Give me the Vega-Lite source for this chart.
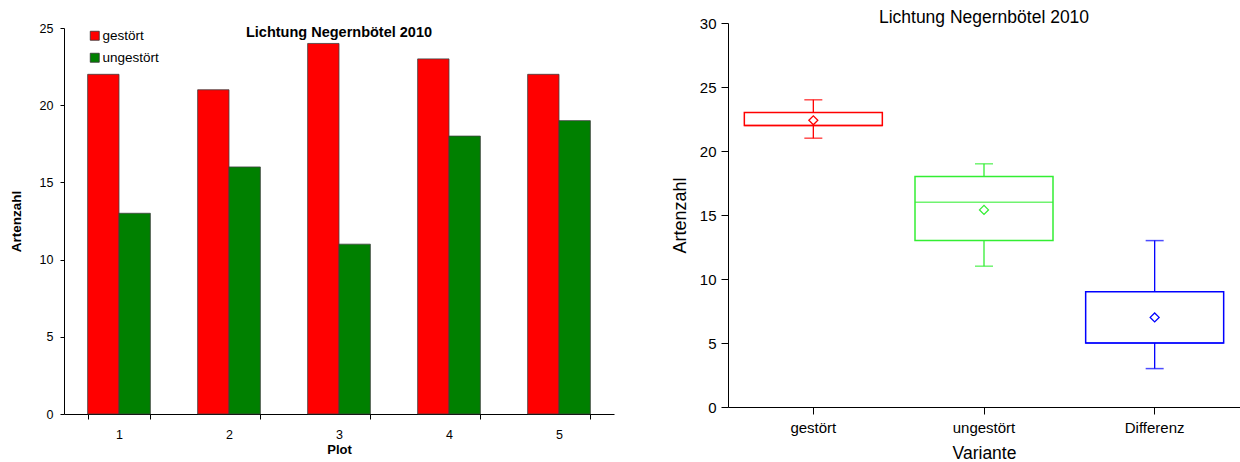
{
  "$schema": "https://vega.github.io/schema/vega-lite/v6.json",
  "padding": {"left": 9, "top": 8, "right": 0, "bottom": 0},
  "background": "white",
  "config": {
    "font": "Liberation Sans",
    "view": {"stroke": null},
    "axis": {"labelFont": "Liberation Sans", "titleFont": "Liberation Sans", "domainColor": "black", "tickColor": "black", "labelColor": "black", "titleColor": "black", "grid": false}
  },
  "datasets": {
    "species": [
      {"plot": "1", "variante": "gestört", "artenzahl": 22},
      {"plot": "2", "variante": "gestört", "artenzahl": 21},
      {"plot": "3", "variante": "gestört", "artenzahl": 24},
      {"plot": "4", "variante": "gestört", "artenzahl": 23},
      {"plot": "5", "variante": "gestört", "artenzahl": 22},
      {"plot": "1", "variante": "ungestört", "artenzahl": 13},
      {"plot": "2", "variante": "ungestört", "artenzahl": 16},
      {"plot": "3", "variante": "ungestört", "artenzahl": 11},
      {"plot": "4", "variante": "ungestört", "artenzahl": 18},
      {"plot": "5", "variante": "ungestört", "artenzahl": 19},
      {"plot": "1", "variante": "Differenz", "artenzahl": 9},
      {"plot": "2", "variante": "Differenz", "artenzahl": 5},
      {"plot": "3", "variante": "Differenz", "artenzahl": 13},
      {"plot": "4", "variante": "Differenz", "artenzahl": 5},
      {"plot": "5", "variante": "Differenz", "artenzahl": 3}
    ]
  },
  "resolve": {"scale": {"color": "independent", "stroke": "independent", "x": "independent", "y": "independent"}, "legend": {"color": "independent"}},
  "hconcat": [
    {
      "width": 550,
      "height": 391,
      "title": {"text": "Lichtung Negernbötel 2010", "fontSize": 14.5, "fontWeight": "bold", "font": "Liberation Sans", "anchor": "middle", "offset": -18, "color": "black"},
      "data": {"name": "species"},
      "transform": [{"filter": "datum.variante !== 'Differenz'"}],
      "mark": {"type": "bar", "stroke": "#404040", "strokeWidth": 0.8},
      "encoding": {
        "x": {"field": "plot", "type": "nominal", "title": "Plot",
              "scale": {"paddingInner": 0.43, "paddingOuter": 0.215},
              "axis": {"labelAngle": 0, "tickBand": "extent", "tickSize": 5, "labelFontSize": 12.5, "labelPadding": 9, "titleFontSize": 13, "titleFontWeight": "bold", "titlePadding": 3}},
        "xOffset": {"field": "variante", "type": "nominal", "sort": ["gestört", "ungestört"]},
        "y": {"field": "artenzahl", "type": "quantitative", "title": "Artenzahl",
              "scale": {"domain": [0, 25], "range": [391, 5]},
              "axis": {"values": [0, 5, 10, 15, 20, 25], "tickSize": 4, "labelFontSize": 12.5, "labelPadding": 7, "titleFontSize": 13.5, "titleFontWeight": "bold", "titlePadding": 16}},
        "color": {"field": "variante", "type": "nominal",
                  "scale": {"domain": ["gestört", "ungestört"], "range": ["#ff0000", "#008000"]},
                  "legend": {"title": null, "orient": "none", "legendX": 24, "legendY": 6, "symbolType": "square", "symbolSize": 81, "symbolStrokeColor": "#333", "symbolStrokeWidth": 0.8, "labelFontSize": 13.5, "labelFont": "Liberation Sans", "labelOffset": 1, "rowPadding": 7, "labelColor": "black"}}
      }
    },
    {
      "width": 512,
      "height": 384,
      "title": {"text": "Lichtung Negernbötel 2010", "fontSize": 17.5, "fontWeight": "normal", "font": "Liberation Sans", "anchor": "middle", "offset": -10, "color": "black"},
      "data": {"name": "species"},
      "transform": [
        {"aggregate": [
          {"op": "min", "field": "artenzahl", "as": "lo"},
          {"op": "q1", "field": "artenzahl", "as": "q1"},
          {"op": "median", "field": "artenzahl", "as": "med"},
          {"op": "q3", "field": "artenzahl", "as": "q3"},
          {"op": "max", "field": "artenzahl", "as": "hi"},
          {"op": "mean", "field": "artenzahl", "as": "avg"}
        ], "groupby": ["variante"]}
      ],
      "encoding": {
        "x": {"field": "variante", "type": "nominal", "title": "Variante", "sort": ["gestört", "ungestört", "Differenz"],
              "scale": {"paddingInner": 0, "paddingOuter": 0},
              "axis": {"labelAngle": 0, "tickSize": 7, "labelFontSize": 15, "labelPadding": 6, "titleFontSize": 17.5, "titleFontWeight": "normal", "titlePadding": 9}},
        "color": {"field": "variante", "type": "nominal",
                  "scale": {"domain": ["gestört", "ungestört", "Differenz"], "range": ["#ff0000", "#33ee33", "#0000ff"]},
                  "legend": null}
      },
      "layer": [
        {
          "mark": {"type": "rule", "strokeWidth": 1.3},
          "encoding": {
            "y": {"field": "lo", "type": "quantitative", "title": "Artenzahl",
                  "scale": {"domain": [0, 30]},
                  "axis": {"values": [0, 5, 10, 15, 20, 25, 30], "tickSize": 7, "labelFontSize": 15, "labelPadding": 5, "titleFontSize": 18, "titleFontWeight": "normal", "titlePadding": 10}},
            "y2": {"field": "hi"}
          }
        },
        {
          "mark": {"type": "tick", "size": 18, "thickness": 1.5, "orient": "horizontal"},
          "encoding": {"y": {"field": "lo", "type": "quantitative"}}
        },
        {
          "mark": {"type": "tick", "size": 18, "thickness": 1.5, "orient": "horizontal"},
          "encoding": {"y": {"field": "hi", "type": "quantitative"}}
        },
        {
          "mark": {"type": "bar", "size": 138, "fill": "white", "strokeWidth": 1.5},
          "encoding": {
            "y": {"field": "q1", "type": "quantitative"},
            "y2": {"field": "q3"},
            "stroke": {"field": "variante", "type": "nominal", "scale": {"domain": ["gestört", "ungestört", "Differenz"], "range": ["#ff0000", "#33ee33", "#0000ff"]}, "legend": null},
            "color": {"value": "white"}
          }
        },
        {
          "mark": {"type": "tick", "size": 138, "thickness": 1.5, "orient": "horizontal"},
          "encoding": {"y": {"field": "med", "type": "quantitative"}}
        },
        {
          "mark": {"type": "point", "shape": "diamond", "filled": false, "size": 80, "strokeWidth": 1.3, "opacity": 1},
          "encoding": {"y": {"field": "avg", "type": "quantitative"}}
        }
      ]
    }
  ],
  "spacing": 114,
  "bounds": "flush"
}
